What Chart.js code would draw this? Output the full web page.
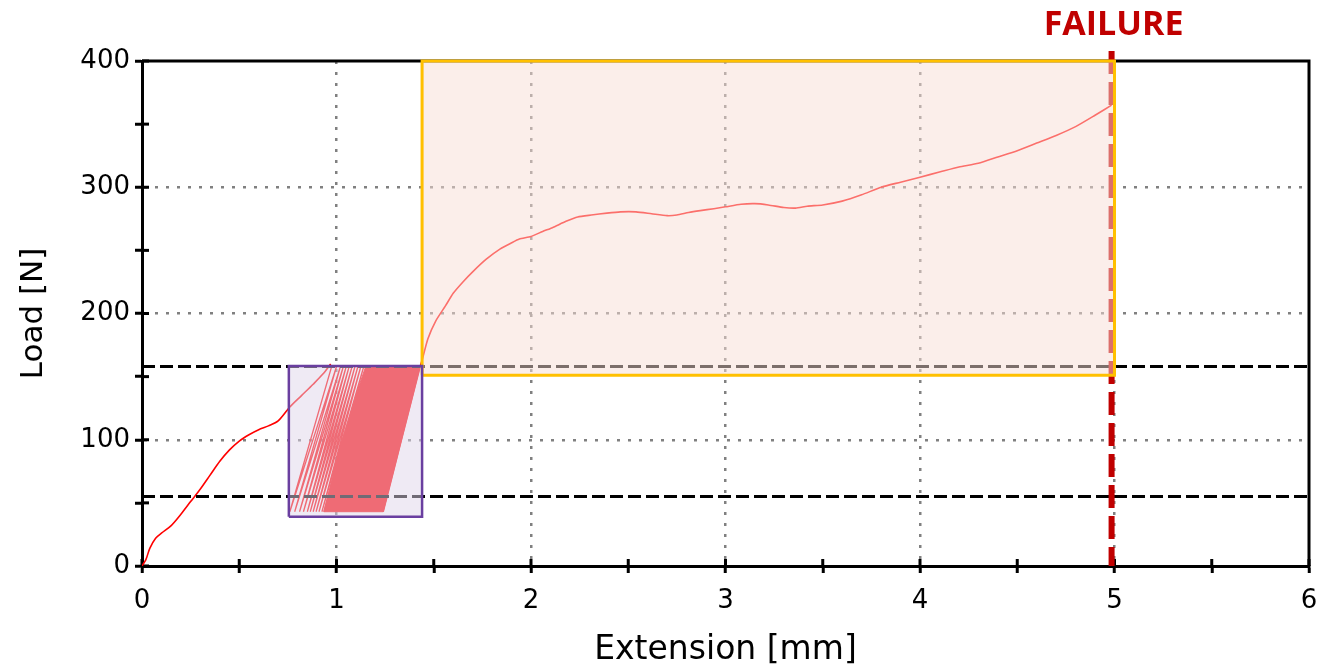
<!DOCTYPE html>
<html>
<head>
<meta charset="utf-8">
<script src="https://cdn.jsdelivr.net/npm/chart.js@4/dist/chart.umd.min.js"></script>
<style>
  body { margin: 0; background: #fff; }
</style>
</head>
<body>
<canvas id="loadChart" width="1323" height="670"></canvas>
<script>
// first loading ramp up to the first peak
const rampExt  = [0, 0.02, 0.04, 0.07, 0.1, 0.15, 0.2, 0.25, 0.3, 0.35, 0.4, 0.45, 0.5, 0.55, 0.6, 0.65, 0.7, 0.76, 0.82, 0.88, 0.93, 0.97];
const rampLoad = [0, 5, 14, 22, 26, 32, 41, 51, 61, 72, 83, 92, 99, 104, 108, 111, 115, 126, 135, 144, 152, 160];

// cyclic part: peak / valley positions of the visible single cycles
const cyclePeakLoad = 158;
const cycleValleyLoad = 43;
const cycleTopExt    = [0.975, 1.0, 1.02, 1.035, 1.05, 1.065, 1.08, 1.095, 1.11, 1.125, 1.14];
const cycleBottomExt = [0.76, 0.785, 0.81, 0.83, 0.85, 0.865, 0.88, 0.895, 0.91, 0.925, 0.935];

// outline of the dense block of cycles
const bandExt  = [0.935, 0.98, 1.02, 1.07, 1.11, 1.15, 1.43, 1.24, 0.935];
const bandLoad = [43, 70, 95, 120, 140, 158, 158, 43, 43];

// loading to failure after the cycles
const finalExt  = [1.24, 1.43, 1.44, 1.47, 1.51, 1.56, 1.6, 1.65, 1.7, 1.77, 1.84, 1.9, 1.94, 2.0, 2.06, 2.11, 2.18, 2.24, 2.31, 2.39, 2.46, 2.54, 2.62, 2.7, 2.75, 2.81, 2.87, 2.94, 3.0, 3.08, 3.15, 3.22, 3.3, 3.36, 3.42, 3.5, 3.6, 3.7, 3.8, 3.9, 4.0, 4.1, 4.2, 4.3, 4.4, 4.5, 4.6, 4.7, 4.8, 4.9, 4.985];
const finalLoad = [43, 158, 163, 180, 194, 206, 216, 225, 233, 243, 251, 256, 259, 261, 265, 268, 273, 276.5, 278, 279.5, 280.5, 280.5, 279, 277.5, 278, 280, 281.5, 283, 284.5, 286.5, 287, 286, 284, 283.5, 285, 286, 289, 294, 300, 304, 308, 312, 316, 319, 324, 329, 335, 341, 348, 357, 365];

// reference load levels and failure
const refLoads = [158, 55];
const failureExt = 4.985;

// highlighted regions [ext from, ext to], [load from, load to]
const cyclicBoxExt = [0.755, 1.44];
const cyclicBoxLoad = [39, 158.5];
const staticBoxExt = [1.44, 5.0];
const staticBoxLoad = [151, 400];

const gridGray = '#808080';

function pts(xs, ys) {
    return xs.map((x, i) => ({ x: x, y: ys[i] }));
}

function box(xr, yr) {
    return [
        { x: xr[0], y: yr[0] }, { x: xr[1], y: yr[0] },
        { x: xr[1], y: yr[1] }, { x: xr[0], y: yr[1] },
        { x: xr[0], y: yr[0] }
    ];
}

const cyclePoints = [];
cycleTopExt.forEach((x, i) => {
    cyclePoints.push({ x: x, y: cyclePeakLoad });
    cyclePoints.push({ x: cycleBottomExt[i], y: cycleValleyLoad });
});

const framePlugin = {
    id: 'frame',
    beforeDatasetsDraw(chart) {
        const ctx = chart.ctx;
        const a = chart.chartArea;
        ctx.save();
        ctx.strokeStyle = '#000';
        ctx.lineWidth = 3;
        ctx.beginPath();
        ctx.moveTo(a.left, a.top);
        ctx.lineTo(a.right, a.top);
        ctx.lineTo(a.right, a.bottom);
        ctx.stroke();
        // inner half of the tick marks
        chart.scales.x.ticks.forEach(t => {
            const px = chart.scales.x.getPixelForValue(t.value);
            ctx.beginPath();
            ctx.moveTo(px, a.bottom);
            ctx.lineTo(px, a.bottom - 7);
            ctx.stroke();
        });
        chart.scales.y.ticks.forEach(t => {
            const py = chart.scales.y.getPixelForValue(t.value);
            ctx.beginPath();
            ctx.moveTo(a.left, py);
            ctx.lineTo(a.left + 7, py);
            ctx.stroke();
        });
        ctx.restore();
    },
    afterDraw(chart) {
        const ctx = chart.ctx;
        ctx.save();
        ctx.fillStyle = '#C00000';
        ctx.font = 'bold 34px "Open Sans"';
        ctx.textAlign = 'center';
        ctx.textBaseline = 'alphabetic';
        ctx.fillText('FAILURE', chart.scales.x.getPixelForValue(failureExt) + 2, 35);
        ctx.restore();
    }
};

const ctx = document.getElementById('loadChart').getContext('2d');
const loadChart = new Chart(ctx, {
    type: 'scatter',
    data: {
        datasets: [
            {
                label: 'cyclic box',
                data: box(cyclicBoxExt, cyclicBoxLoad),
                showLine: true,
                fill: 'shape',
                backgroundColor: 'rgba(223,213,234,0.5)',
                borderColor: '#6A3FA0',
                borderWidth: 2.5,
                pointRadius: 0,
                clip: false,
                order: 0
            },
            {
                label: 'static box',
                data: box(staticBoxExt, staticBoxLoad),
                showLine: true,
                fill: 'shape',
                backgroundColor: 'rgba(247,221,213,0.5)',
                borderColor: '#FFC000',
                borderWidth: 3,
                pointRadius: 0,
                clip: false,
                order: 0
            },
            {
                label: 'failure',
                data: [{ x: failureExt, y: 408 }, { x: failureExt, y: 0 }],
                showLine: true,
                borderColor: '#C00000',
                borderWidth: 6,
                borderDash: [23, 8],
                pointRadius: 0,
                clip: false,
                order: 2
            },
            {
                label: 'upper level',
                data: [{ x: 0, y: refLoads[0] }, { x: 6, y: refLoads[0] }],
                showLine: true,
                borderColor: '#000',
                borderWidth: 3,
                borderDash: [13, 5],
                pointRadius: 0,
                order: 3
            },
            {
                label: 'lower level',
                data: [{ x: 0, y: refLoads[1] }, { x: 6, y: refLoads[1] }],
                showLine: true,
                borderColor: '#000',
                borderWidth: 3,
                borderDash: [13, 5],
                pointRadius: 0,
                order: 3
            },
            {
                label: 'ramp',
                data: pts(rampExt, rampLoad),
                showLine: true,
                borderColor: '#FF0000',
                borderWidth: 1.6,
                tension: 0.3,
                pointRadius: 0,
                order: 4
            },
            {
                label: 'cycles',
                data: cyclePoints,
                showLine: true,
                borderColor: '#FF0000',
                borderWidth: 1.3,
                pointRadius: 0,
                order: 4
            },
            {
                label: 'cycle band',
                data: pts(bandExt, bandLoad),
                showLine: true,
                fill: 'shape',
                backgroundColor: '#FF0000',
                borderColor: '#FF0000',
                borderWidth: 1,
                pointRadius: 0,
                order: 4
            },
            {
                label: 'to failure',
                data: pts(finalExt, finalLoad),
                showLine: true,
                borderColor: '#FF0000',
                borderWidth: 1.6,
                tension: 0.2,
                pointRadius: 0,
                order: 4
            }
        ]
    },
    options: {
        responsive: false,
        animation: false,
        events: [],
        layout: {
            padding: { top: 61, right: 14, left: 0, bottom: 0 }
        },
        plugins: {
            legend: { display: false },
            tooltip: { enabled: false }
        },
        scales: {
            x: {
                type: 'linear',
                min: 0,
                max: 6,
                afterFit: s => { s.height = 104; },
                ticks: {
                    stepSize: 0.5,
                    autoSkip: false,
                    maxRotation: 0,
                    padding: 5,
                    color: '#000',
                    font: { family: 'DejaVu Sans', size: 26, lineHeight: 1.75 },
                    callback: v => Number.isInteger(v) ? v : ''
                },
                grid: {
                    color: c => (c.tick && Number.isInteger(c.tick.value) && c.tick.value > 0 && c.tick.value < 6) ? gridGray : 'rgba(0,0,0,0)',
                    lineWidth: 2.5,
                    tickColor: '#000',
                    tickWidth: 3,
                    tickLength: 7
                },
                border: { display: true, color: '#000', width: 3, dash: [3, 8] },
                title: {
                    display: true,
                    text: 'Extension [mm]',
                    color: '#000',
                    font: { family: 'DejaVu Sans', size: 33 },
                    padding: { top: 0, bottom: 0 }
                }
            },
            y: {
                type: 'linear',
                min: 0,
                max: 400,
                afterFit: s => { s.width = 142; },
                ticks: {
                    stepSize: 50,
                    padding: 5,
                    color: '#000',
                    font: { family: 'DejaVu Sans', size: 26 },
                    callback: v => v % 100 === 0 ? v : ''
                },
                grid: {
                    color: c => (c.tick && c.tick.value % 100 === 0 && c.tick.value > 0 && c.tick.value < 400) ? gridGray : 'rgba(0,0,0,0)',
                    lineWidth: 2.5,
                    tickColor: '#000',
                    tickWidth: 3,
                    tickLength: 7
                },
                border: { display: true, color: '#000', width: 3, dash: [3, 8] },
                title: {
                    display: true,
                    text: 'Load [N]',
                    color: '#000',
                    font: { family: 'DejaVu Sans', size: 31 },
                    padding: { top: 15, bottom: 0 }
                }
            }
        }
    },
    plugins: [framePlugin]
});
</script>
</body>
</html>
